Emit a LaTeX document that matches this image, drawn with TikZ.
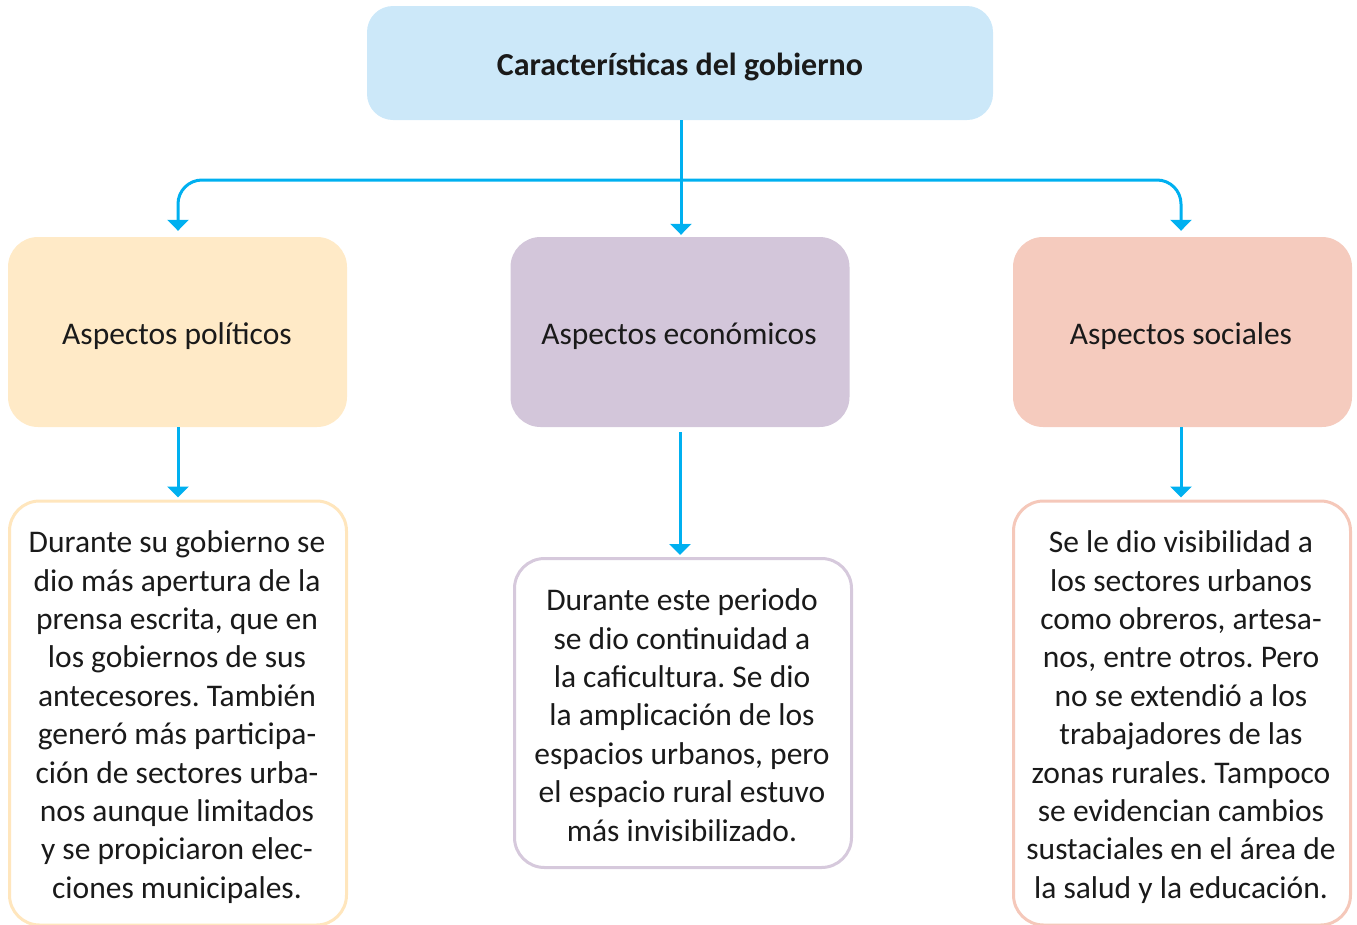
\documentclass[tikz,border=0pt]{standalone}
\usepackage{fontspec}
\setmainfont{Carlito}
\usetikzlibrary{arrows.meta}
\definecolor{conn}{HTML}{00B0F0}
\definecolor{titlefill}{HTML}{CCE8F9}
\definecolor{polfill}{HTML}{FFEAC7}
\definecolor{ecofill}{HTML}{D3C6DA}
\definecolor{socfill}{HTML}{F5CBBE}
\definecolor{polline}{HTML}{FFE6BD}
\definecolor{ecoline}{HTML}{D6C9DC}
\definecolor{socline}{HTML}{F5C8BA}
\definecolor{txt}{HTML}{1A1A1A}
\tikzset{
  topbox/.style={rectangle, rounded corners=26pt, fill=titlefill, minimum width=626pt, minimum height=114pt},
  midbox/.style={rectangle, rounded corners=30pt, minimum width=339pt, minimum height=190pt},
  txtbox/.style={rectangle, rounded corners=30pt, line width=3pt, fill=white, minimum width=337pt, inner sep=0pt},
  label/.style={text=txt, font=\fontsize{31.5}{38}\selectfont},
  body/.style={align=center, text=txt, font=\fontsize{31.5}{38.4}\selectfont\frenchspacing, inner sep=0pt},
  conn/.style={draw=conn, line width=3pt, -{Triangle[width=21pt,length=11pt]}},
}
\begin{document}
\begin{tikzpicture}[x=1pt,y=-1pt]
\useasboundingbox (0,0) rectangle (1357,924);
\node[topbox] (title) at (680,63) {};
\node[text=txt, font=\fontsize{32}{38}\selectfont\bfseries] (titletext) at (680,67) {Características del gobierno};
\node[midbox, fill=polfill] (pol) at (177.5,332) {};
\node[midbox, fill=ecofill] (eco) at (680,332) {};
\node[midbox, fill=socfill] (soc) at (1182.5,332) {};
\node[label] (poll) at (177,336) {Aspectos políticos};
\node[label] (ecol) at (679,336) {Aspectos económicos};
\node[label] (socl) at (1181,336) {Aspectos sociales};
\node[txtbox, draw=polline, minimum height=424pt] (poltxt) at (178,713) {};
\node[txtbox, draw=ecoline, minimum height=309pt] (ecotxt) at (683,713) {};
\node[txtbox, draw=socline, minimum height=424pt] (soctxt) at (1182,713) {};
\node[body] (poltext) at (177,717) {Durante su gobierno se\\dio más apertura de la\\prensa escrita, que en\\los gobiernos de sus\\antecesores. También\\generó más participa-\\ción de sectores urba-\\nos aunque limitados\\y se propiciaron elec-\\ciones municipales.};
\node[body] (ecotext) at (682,715) {Durante este periodo\\se dio continuidad a\\la caficultura. Se dio\\la amplicación de los\\espacios urbanos, pero\\el espacio rural estuvo\\más invisibilizado.};
\node[body] (soctext) at (1181,717) {Se le dio visibilidad a\\los sectores urbanos\\como obreros, artesa-\\nos, entre otros. Pero\\no se extendió a los\\trabajadores de las\\zonas rurales. Tampoco\\se evidencian cambios\\sustaciales en el área de\\la salud y la educación.};
\coordinate (jn) at (681,180);
\draw[conn, shorten >=2pt] (title.south -| jn) -- (eco.north -| jn);
\draw[conn, rounded corners=24pt, shorten >=6pt] (jn) -| (pol.north -| 178,0);
\draw[conn, rounded corners=24pt, shorten >=6pt] (jn) -| (soc.north -| 1181,0);
\draw[conn, shorten >=2pt] (pol.south -| 178,0) -- (poltxt.north -| 178,0);
\draw[conn, shorten <=5pt, shorten >=2pt] (eco.south) -- (ecotxt.north -| eco.south);
\draw[conn, shorten >=2pt] (soc.south -| 1181,0) -- (soctxt.north -| 1181,0);
\end{tikzpicture}
\end{document}
